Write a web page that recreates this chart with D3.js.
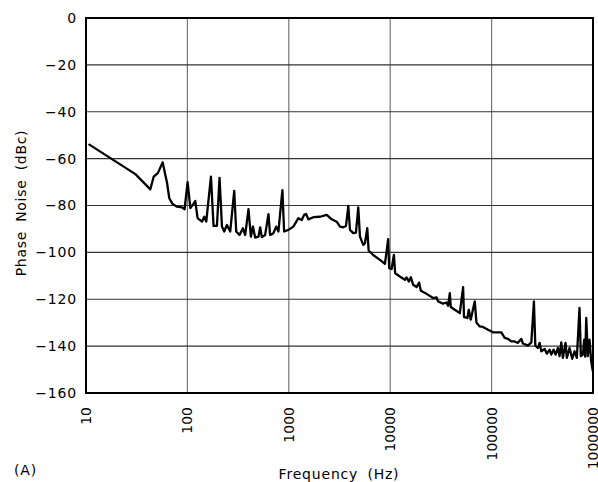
<!DOCTYPE html>
<html>
<head>
<meta charset="utf-8">
<script src="https://cdn.jsdelivr.net/npm/d3@7"></script>
<style>
  body { margin: 0; background: #fff; }
  text { font-family: "DejaVu Sans", sans-serif; fill: #000; }
</style>
</head>
<body>
<div id="vis"></div>
<script>
// values (Hz, dBc)
var freqHz = [10.6, 30.7, 43.1, 46.5, 51.1, 57.0, 63.0, 66.3, 71.5, 79.0, 88.5, 93.8,
  100.5, 106.9, 119.6, 126.0, 139.2, 146.6, 153.5, 170.7, 181.1, 195.5, 207.5, 219.2,
  230.7, 245.4, 264.4, 289.6, 303, 326.4, 352.5, 371.5, 400.3, 422.7, 442.6, 466.2,
  502, 522, 542, 584, 630, 654, 705, 750, 790, 865, 899, 991, 1109, 1242,
  1343, 1415, 1480, 1560, 1746, 2032, 2366, 2650, 2966, 3199, 3445, 3664, 3864, 4012,
  4325, 4594, 4842, 5033, 5423, 5637, 5941, 6128, 6803, 7925, 8873, 9550, 9772, 10330,
  10870, 11200, 12450, 13960, 14490, 15280, 15990, 16840, 18200, 19290, 20050, 22810,
  26500, 28640, 29660, 33240, 35920, 37240, 38710, 39560, 43330, 48560, 52360, 53460,
  57770, 59560, 62250, 68200, 70850, 76330, 82290, 92210, 103300, 111500, 124800,
  134600, 144900, 156600, 168800, 181900, 196500, 203700, 228200, 246600, 261400,
  269800, 286300, 297400, 309000, 333200, 351000, 373100, 388000, 408600, 427500,
  450600, 468000, 486400, 504600, 535800, 552000, 587100, 624100, 657600, 693000,
  736300, 758600, 794000, 818900, 838000, 857800, 889300, 924000, 960000, 995800];
var phaseNoise = [-53.8, -66.6, -73.1, -67.7, -66.2, -61.6, -70.4, -76.9, -79.4, -80.5, -80.8, -81.6,
  -70.0, -81.1, -78.1, -85.4, -86.9, -84.8, -86.9, -67.7, -88.7, -88.7, -68.2, -89.0,
  -91.1, -88.3, -91.1, -73.8, -91.1, -92.6, -89.7, -92.6, -81.6, -93.3, -89.0, -93.7,
  -93.3, -89.3, -93.5, -92.6, -83.7, -92.6, -91.8, -89.0, -91.1, -73.4, -91.1, -90.4, -89.0, -85.4,
  -86.2, -84.0, -83.6, -85.9, -85.0, -84.8, -84.0, -85.9, -86.9, -89.0, -89.3, -88.7, -80.2, -90.4,
  -91.8, -91.6, -80.8, -93.3, -96.8, -96.1, -89.7, -99.2, -101.1, -103.2, -104.9, -94.4, -106.7, -107.1,
  -101.1, -108.9, -110.3, -111.7, -110.7, -112.4, -110.6, -113.8, -114.8, -112.9, -116.4, -117.7,
  -119.5, -119.2, -120.9, -121.9, -121.4, -122.8, -117.4, -123.3, -124.5, -125.9, -114.8, -127.6,
  -128.0, -124.5, -128.7, -120.9, -129.9, -131.6, -131.8, -133.0, -134.1, -134.1, -134.1,
  -136.5, -136.9, -138.0, -138.0, -138.6, -136.9, -138.9, -139.8, -138.4, -120.9,
  -139.8, -140.8, -138.6, -142.2, -141.2, -143.2, -141.5, -143.6, -141.5, -143.6,
  -140.8, -144.3, -138.4, -145.0, -138.6, -145.0, -140.8, -145.4, -142.2, -145.0,
  -123.7, -144.3, -143.6, -137.2, -144.5, -128.0, -144.3, -137.2, -146.5, -150.7];

var xTicks = [10, 100, 1000, 10000, 100000, 1000000];
var yTicks = [0, -20, -40, -60, -80, -100, -120, -140, -160];

var width = 598, height = 482;
var margin = {top: 18, right: 5, bottom: 89, left: 86};

var svg = d3.select("#vis").append("svg")
    .attr("width", width)
    .attr("height", height);

var x = d3.scaleLog()
    .domain([10, 1000000])
    .range([margin.left, width - margin.right]);

var y = d3.scaleLinear()
    .domain([-160, 0])
    .range([height - margin.bottom, margin.top]);

// grid
svg.append("g").selectAll("line").data(xTicks).enter()
    .append("line")
    .attr("x1", d => x(d)).attr("x2", d => x(d))
    .attr("y1", y(0)).attr("y2", y(-160))
    .attr("stroke", "#777").attr("stroke-width", 1.2);

svg.append("g").selectAll("line").data(yTicks).enter()
    .append("line")
    .attr("x1", x(10)).attr("x2", x(1000000))
    .attr("y1", d => y(d)).attr("y2", d => y(d))
    .attr("stroke", "#333").attr("stroke-width", 1.2);

// frame
svg.append("rect")
    .attr("x", x(10)).attr("y", y(0))
    .attr("width", x(1000000) - x(10))
    .attr("height", y(-160) - y(0))
    .attr("fill", "none")
    .attr("stroke", "#000")
    .attr("stroke-width", 2);

// trace
var points = freqHz.map((f, i) => [f, phaseNoise[i]]);
var line = d3.line()
    .x(d => x(d[0]))
    .y(d => y(d[1]));

svg.append("path")
    .datum(points)
    .attr("d", line)
    .attr("fill", "none")
    .attr("stroke", "#000")
    .attr("stroke-width", 2.3)
    .attr("stroke-linejoin", "round");

// y tick labels
svg.append("g").selectAll("text").data(yTicks).enter()
    .append("text")
    .attr("x", margin.left - 9)
    .attr("y", d => y(d))
    .attr("dy", "0.35em")
    .attr("text-anchor", "end")
    .style("font-size", "14px")
    .style("letter-spacing", "0.8px")
    .text(d => d < 0 ? "\u2212" + Math.abs(d) : d);

// x tick labels, rotated
svg.append("g").selectAll("text").data(xTicks).enter()
    .append("text")
    .attr("transform", d => "translate(" + x(d) + "," + (height - margin.bottom + 14) + ") rotate(-90)")
    .attr("dy", "0.36em")
    .attr("text-anchor", "end")
    .style("font-size", "14px")
    .text(d => d);

// titles
svg.append("text")
    .attr("transform", "translate(25.5,203) rotate(-90)")
    .attr("text-anchor", "middle")
    .style("font-size", "14px")
    .style("letter-spacing", "0.7px")
    .style("word-spacing", "4px")
    .text("Phase Noise (dBc)");

svg.append("text")
    .attr("x", 339)
    .attr("y", 479)
    .attr("text-anchor", "middle")
    .style("font-size", "14px")
    .style("letter-spacing", "0.8px")
    .style("word-spacing", "4px")
    .text("Frequency (Hz)");

svg.append("text")
    .attr("x", 14)
    .attr("y", 475)
    .style("font-size", "14px")
    .style("letter-spacing", "0.8px")
    .text("(A)");
</script>
</body>
</html>
